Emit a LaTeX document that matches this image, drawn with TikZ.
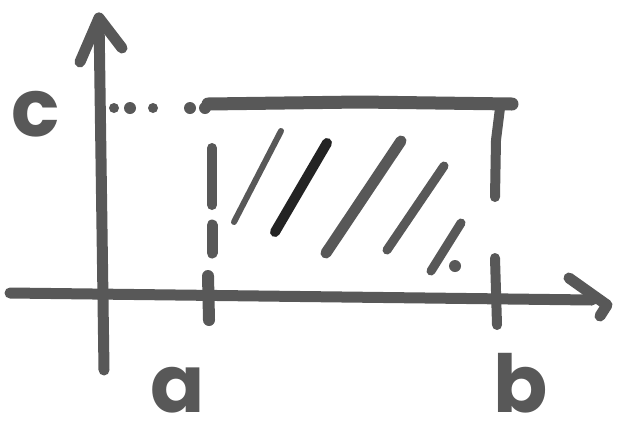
\documentclass[tikz,border=0pt]{standalone}
\usepackage{fontspec}
\setmainfont{Poppins}
\definecolor{marker}{HTML}{585858}
\definecolor{darkmarker}{HTML}{232323}
\begin{document}
\begin{tikzpicture}[x=1pt,y=-1pt,
  pen/.style={draw=marker,line width=11pt,line cap=round,line join=round},
  thinpen/.style={draw=marker,line width=6pt,line cap=round},
  hatchpen/.style={draw=marker,line width=9pt,line cap=round},
  darkpen/.style={draw=darkmarker,line width=10pt,line cap=round},
  dotpen/.style={fill=marker},
  lbl/.style={text=marker,font=\fontsize{80}{80}\selectfont\bfseries,inner sep=0pt}]
\useasboundingbox (0,0) rectangle (617,424);
% coordinates
\coordinate (yb) at (104,370);
\coordinate (yt) at (99,18);
\coordinate (yl) at (80,62);
\coordinate (yr) at (122,48);
\coordinate (xl) at (10,293);
\coordinate (xr) at (592,300);
\coordinate (xh1) at (569,278);
\coordinate (xh2) at (607,305);
\coordinate (xh3) at (600,316);
% y axis
\draw[pen] (yb) -- (yt);
\draw[pen] (yl) -- (yt) -- (yr);
% x axis
\draw[pen] (xl) -- (xr);
\draw[pen] (xh1) -- (xh2) -- (xh3);
% ticks
\coordinate (ta1) at (208,276);
\coordinate (ta2) at (209,320);
\coordinate (tb1) at (495,258);
\coordinate (tb2) at (497,325);
\draw[pen,line width=12pt] (ta1) -- (ta2);
\draw[pen,line width=10pt] (tb1) -- (tb2);
% top line
\coordinate (t1) at (208,104);
\coordinate (t2) at (360,102);
\coordinate (t3) at (512,104);
\draw[pen,line width=13pt] (t1) -- (t2) -- (t3);
\coordinate (r1) at (500,108);
\coordinate (r2) at (496,140);
\coordinate (r3) at (495,197);
\draw[pen,line width=10pt] (r1) -- (r2) -- (r3);
% left dashed vertical
\coordinate (d1a) at (212,148);
\coordinate (d1b) at (212,205);
\coordinate (d2a) at (212,225);
\coordinate (d2b) at (212,253);
\draw[pen,line width=10pt] (d1a) -- (d1b);
\draw[pen,line width=11pt] (d2a) -- (d2b);
% dotted line at c
\foreach \x/\r in {114/5,130/6,153/5,190/6,205/6}
  \fill[dotpen] (\x,108) circle (\r);
% hatching
\coordinate (h1a) at (234,222);
\coordinate (h1b) at (281,131);
\coordinate (h2a) at (275,232);
\coordinate (h2b) at (327,143);
\coordinate (h3a) at (326,253);
\coordinate (h3b) at (401,141);
\coordinate (h4a) at (387,250);
\coordinate (h4b) at (444,166);
\coordinate (h5a) at (431,271);
\coordinate (h5b) at (461,223);
\draw[thinpen] (h1a) -- (h1b);
\draw[darkpen] (h2a) -- (h2b);
\draw[hatchpen,line width=11pt] (h3a) -- (h3b);
\draw[hatchpen] (h4a) -- (h4b);
\draw[hatchpen] (h5a) -- (h5b);
\fill[dotpen] (455,266) circle (6);
% labels
\node[lbl] (c) at (36,114) {c};
\node[lbl] (a) at (178,390) {a};
\node[lbl] (b) at (521,383) {b};
\end{tikzpicture}
\end{document}
